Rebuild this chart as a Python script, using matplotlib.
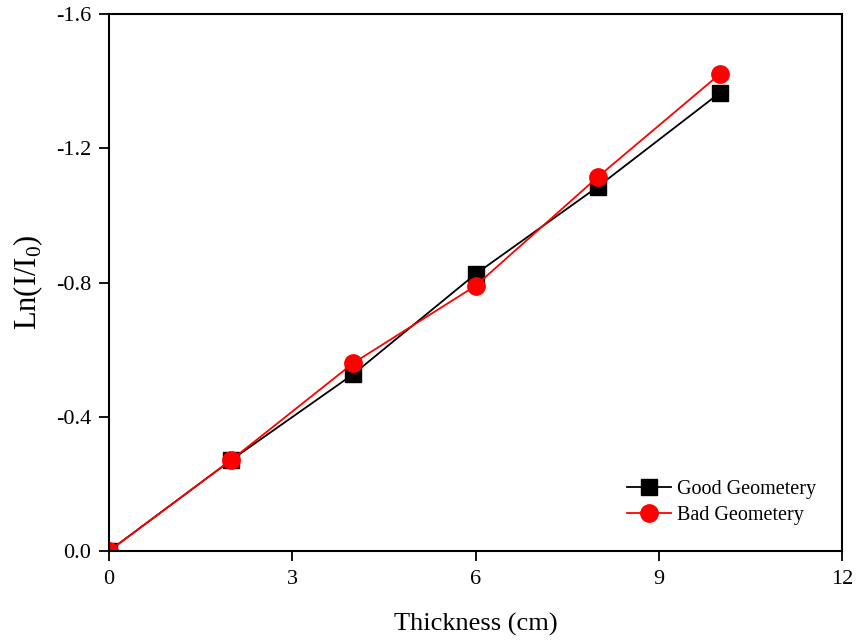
import matplotlib
matplotlib.use("Agg")
import matplotlib.pyplot as plt

thickness = [0, 2, 4, 6, 8, 10]
good_geometry = [0.0, -0.271, -0.527, -0.825, -1.085, -1.365]
bad_geometry = [0.0, -0.271, -0.560, -0.790, -1.114, -1.421]

x_ticks = [0, 3, 6, 9, 12]
y_ticks = [0.0, -0.4, -0.8, -1.2, -1.6]
y_labels = ["0.0", "-0.4", "-0.8", "-1.2", "-1.6"]

plt.rcParams['font.family'] = ['Liberation Serif', 'DejaVu Serif']

fig = plt.figure(figsize=(8.57, 6.43), dpi=100)
ax = fig.add_axes([109/857, 1 - 551/643, (842-109)/857, (551-14)/643])

ax.plot(thickness, good_geometry, color='black', marker='s', markersize=11,
        linewidth=1.3, label='Good Geometery')
ax.plot(thickness, bad_geometry, color='red', marker='o', markersize=12.5,
        linewidth=1.3, label='Bad Geometery')

ax.set_xlim(0, 12)
ax.set_ylim(0, -1.6)
ax.set_xticks(x_ticks)
ax.set_yticks(y_ticks)
ax.set_yticklabels(y_labels)
ax.tick_params(direction='out', length=7, width=1.3, labelsize=16, pad=6)
ax.tick_params(axis='x', pad=7)
for s in ax.spines.values():
    s.set_linewidth(1.5)

ax.set_xlabel('Thickness (cm)', fontsize=19, labelpad=17)
ax.set_ylabel(r'Ln(I/I$_\mathregular{0}$)', fontsize=22, labelpad=8)

ax.legend(loc='lower right', bbox_to_anchor=(0.99, 0.015), frameon=False,
          fontsize=14.5, handlelength=2.2, handletextpad=0.3, labelspacing=0.35)

fig.savefig('out.png', dpi=100)
